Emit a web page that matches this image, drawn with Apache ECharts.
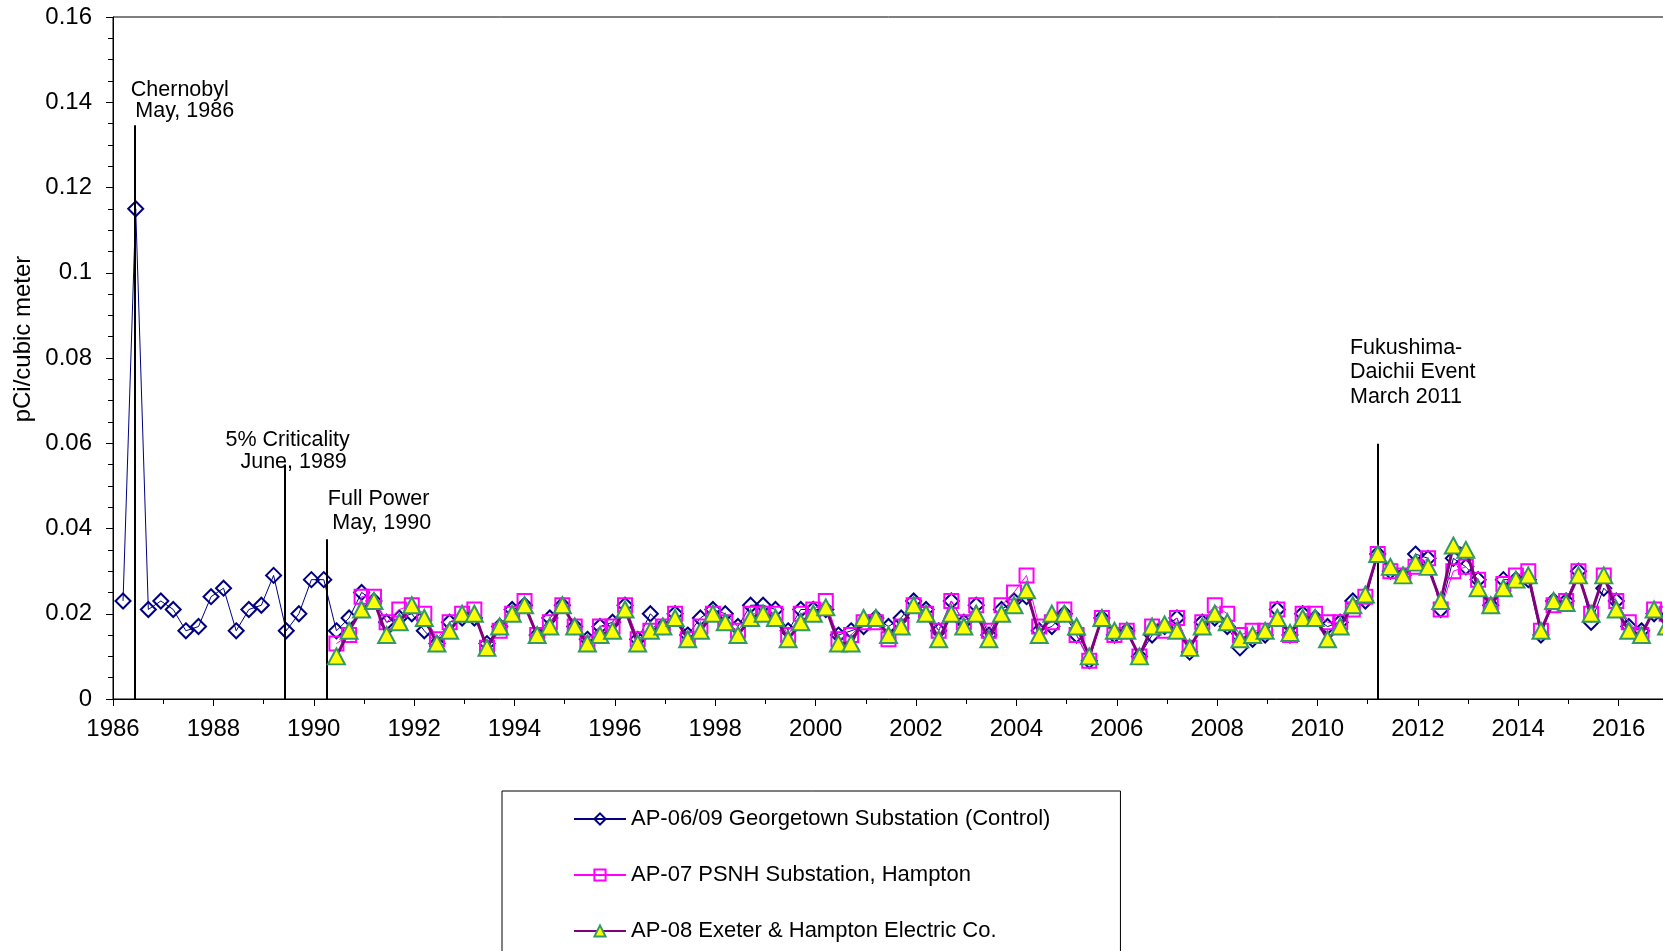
<!DOCTYPE html>
<html>
<head>
<meta charset="utf-8">
<script src="https://cdn.jsdelivr.net/npm/echarts@6/dist/echarts.min.js"></script>
<style>
html,body{margin:0;padding:0;background:#fff;}
#chart{width:1663px;height:951px;}
</style>
</head>
<body>
<div id="chart"></div>
<script>
// ---- data ----
const seriesNames = [
  'AP-06/09 Georgetown Substation (Control)',
  'AP-07 PSNH Substation, Hampton',
  'AP-08 Exeter & Hampton Electric Co.'
];
// quarterly sample dates, 1986-03 .. 2016-12
const sampleMonths = ['03-15', '06-15', '09-15', '12-15'];
const firstYear = 1986, lastYear = 2016;
// Georgetown starts 1986-03; the other two start 1990-06
const georgetown = [
  0.023, 0.115, 0.021, 0.023, 0.021, 0.016, 0.017, 0.024, 0.026, 0.016, 0.021, 0.022, 0.029, 0.016, 0.020, 0.028, 0.028,
  0.016, 0.019, 0.025, 0.023, 0.018, 0.019, 0.020, 0.016, 0.013, 0.018, 0.019, 0.019, 0.013, 0.017, 0.021, 0.022,
  0.015, 0.019, 0.022, 0.017, 0.014, 0.017, 0.018, 0.022, 0.014, 0.020, 0.017, 0.020, 0.015, 0.019, 0.021, 0.020,
  0.017, 0.022, 0.022, 0.021, 0.016, 0.021, 0.021, 0.021, 0.015, 0.016, 0.017, 0.019, 0.017, 0.019, 0.023, 0.021,
  0.016, 0.023, 0.018, 0.022, 0.015, 0.021, 0.023, 0.024, 0.016, 0.017, 0.020, 0.015, 0.009, 0.019, 0.015, 0.016,
  0.010, 0.015, 0.017, 0.019, 0.011, 0.018, 0.019, 0.017, 0.012, 0.014, 0.015, 0.021, 0.015, 0.020, 0.019, 0.017,
  0.018, 0.023, 0.023, 0.034, 0.030, 0.029, 0.034, 0.033, 0.021, 0.033, 0.031, 0.028, 0.022, 0.028, 0.028, 0.028,
  0.015, 0.023, 0.023, 0.030, 0.018, 0.026, 0.023, 0.017, 0.016, 0.020, 0.019
];
const psnh = [
  0.013, 0.015, 0.024, 0.024, 0.018, 0.021, 0.022, 0.020, 0.014, 0.018, 0.020, 0.021, 0.012, 0.016, 0.020, 0.023,
  0.015, 0.018, 0.022, 0.017, 0.013, 0.017, 0.017, 0.022, 0.014, 0.016, 0.017, 0.020, 0.014, 0.017, 0.020, 0.018,
  0.016, 0.020, 0.020, 0.020, 0.015, 0.020, 0.021, 0.023, 0.014, 0.015, 0.018, 0.018, 0.014, 0.017, 0.022, 0.020,
  0.016, 0.023, 0.018, 0.022, 0.016, 0.022, 0.025, 0.029, 0.017, 0.018, 0.021, 0.015, 0.009, 0.019, 0.015, 0.016,
  0.010, 0.017, 0.016, 0.019, 0.012, 0.018, 0.022, 0.020, 0.015, 0.016, 0.016, 0.021, 0.015, 0.020, 0.020, 0.018,
  0.018, 0.021, 0.024, 0.034, 0.030, 0.029, 0.031, 0.033, 0.021, 0.030, 0.031, 0.028, 0.022, 0.027, 0.029, 0.030,
  0.016, 0.022, 0.023, 0.030, 0.020, 0.029, 0.023, 0.018, 0.015, 0.021, 0.020
];
const exeter = [
  0.010, 0.016, 0.021, 0.023, 0.015, 0.018, 0.022, 0.019, 0.013, 0.016, 0.020, 0.020, 0.012, 0.017, 0.020, 0.022,
  0.015, 0.017, 0.022, 0.017, 0.013, 0.015, 0.016, 0.021, 0.013, 0.016, 0.017, 0.019, 0.014, 0.016, 0.020, 0.018,
  0.015, 0.019, 0.020, 0.019, 0.014, 0.018, 0.020, 0.0215, 0.013, 0.013, 0.019, 0.019, 0.015, 0.017, 0.022, 0.020,
  0.014, 0.020, 0.017, 0.020, 0.014, 0.020, 0.022, 0.0255, 0.015, 0.020, 0.020, 0.017, 0.010, 0.019, 0.016, 0.016,
  0.010, 0.017, 0.0175, 0.016, 0.012, 0.017, 0.020, 0.018, 0.014, 0.015, 0.016, 0.019, 0.0155, 0.019, 0.019, 0.014,
  0.017, 0.022, 0.0245, 0.034, 0.031, 0.029, 0.032, 0.031, 0.023, 0.036, 0.035, 0.026, 0.022, 0.026, 0.028, 0.029,
  0.016, 0.023, 0.0225, 0.029, 0.020, 0.029, 0.021, 0.016, 0.015, 0.021, 0.017
];
const laterStartIndex = 17; // 1990-06
// event markers: x (decimal year), top of line (pCi/m3), text anchor, text lines
const events = [
  { lines: ['Chernobyl', 'May, 1986'], indent: [0, 4.5], x: 1986.43, top: 0.1346, tx: 1986.355, ty: 0.1404, lh: 21 },
  { lines: ['5% Criticality', 'June, 1989'], indent: [0, 15], x: 1989.42, top: 0.055, tx: 1988.24, ty: 0.0582, lh: 22 },
  { lines: ['Full Power', 'May, 1990'], indent: [0, 4.5], x: 1990.25, top: 0.0375, tx: 1990.28, ty: 0.0442, lh: 24 },
  { lines: ['Fukushima-', 'Daichii Event', 'March 2011'], indent: [0, 0, 0], x: 2011.2, top: 0.0599, tx: 2010.647, ty: 0.0766, lh: 24.5 }
];
const yTicks = [0, 0.02, 0.04, 0.06, 0.08, 0.1, 0.12, 0.14, 0.16];
const xTickStart = 1986, xTickEnd = 2018, xTickStep = 2;

// ---- build ----
const sampleDates = [];
for (let y = firstYear; y <= lastYear; y++) for (const m of sampleMonths) sampleDates.push(y + '-' + m);
function decYear(s) {
  const d = new Date(s + 'T00:00:00Z');
  const y = d.getUTCFullYear();
  const start = Date.UTC(y, 0, 1);
  return y + (d.getTime() - start) / (365 * 86400000);
}
const xs = sampleDates.map(decYear);
const gData = georgetown.map((v, i) => [xs[i], v]);
const pData = psnh.map((v, i) => [xs[i + laterStartIndex], v]);
const eData = exeter.map((v, i) => [xs[i + laterStartIndex], v]);

const FONT = 'Liberation Sans, Arial, sans-serif';
function eventLabel(e) {
  const rich = {};
  const parts = e.lines.map((t, i) => {
    rich['l' + i] = { fontSize: 21.5, lineHeight: e.lh, color: '#000', fontFamily: FONT, padding: [0, 0, 0, e.indent[i]] };
    return '{l' + i + '|' + t + '}';
  });
  return {
    show: true, position: 'inside', formatter: parts.join('\n'), align: 'left', verticalAlign: 'middle',
    fontSize: 21.5, lineHeight: e.lh, color: '#000', fontFamily: FONT, rich: rich
  };
}
const chart = echarts.init(document.getElementById('chart'), null, { renderer: 'canvas' });
const option = {
  animation: false,
  backgroundColor: '#fff',
  textStyle: { fontFamily: FONT, color: '#000' },
  grid: {
    left: 113, right: -56, top: 17, bottom: 252, containLabel: false, outerBoundsMode: 'none',
    show: true, borderColor: '#000', borderWidth: 1, backgroundColor: 'transparent'
  },
  legend: {
    orient: 'vertical', left: 502, top: 791, height: 240,
    data: seriesNames,
    itemWidth: 52, itemHeight: 14, itemGap: 34,
    padding: [17, 70, 40, 71],
    borderColor: '#000', borderWidth: 1, backgroundColor: '#fff',
    textStyle: { fontSize: 22, color: '#000', fontFamily: FONT },
    selectedMode: false
  },
  xAxis: {
    type: 'value', min: xTickStart, max: xTickEnd, interval: xTickStep,
    axisLine: { show: true, onZero: false, lineStyle: { color: '#000', width: 1 } },
    axisTick: { show: true, length: 7, lineStyle: { color: '#000' } },
    minorTick: { show: true, splitNumber: 2, length: 5, lineStyle: { color: '#000' } },
    splitLine: { show: false },
    axisLabel: { fontSize: 24, color: '#000', fontFamily: FONT, margin: 18, formatter: v => String(v) }
  },
  yAxis: {
    type: 'value', min: yTicks[0], max: yTicks[yTicks.length - 1], interval: 0.02,
    axisLine: { show: true, lineStyle: { color: '#000', width: 1 } },
    axisTick: { show: true, length: 7, lineStyle: { color: '#000' } },
    minorTick: { show: true, splitNumber: 4, length: 5, lineStyle: { color: '#000' } },
    splitLine: { show: false },
    axisLabel: { fontSize: 24, color: '#000', fontFamily: FONT, margin: 21, formatter: v => String(+(+v).toFixed(3)) }
  },
  graphic: [{
    type: 'text', x: 23, y: 339, rotation: Math.PI / 2,
    style: { text: 'pCi/cubic meter', font: '24px ' + FONT, fill: '#000', align: 'center', verticalAlign: 'middle' }
  }],
  series: [
    {
      name: 'events', type: 'line', data: [], silent: true,
      markLine: {
        silent: true, symbol: 'none', animation: false,
        lineStyle: { color: '#000', width: 2, type: 'solid' },
        label: { show: false },
        data: events.map(e => [{ coord: [e.x, 0] }, { coord: [e.x, e.top] }])
      },
      markPoint: {
        silent: true, symbol: 'circle', symbolSize: 0, animation: false,
        data: events.map(e => ({ coord: [e.tx, e.ty], label: eventLabel(e) }))
      }
    },
    {
      name: seriesNames[0], type: 'line', data: gData, z: 3,
      symbol: 'diamond', symbolSize: 15, showAllSymbol: true,
      lineStyle: { color: '#000080', width: 1 },
      itemStyle: { color: 'rgba(255,255,255,0)', borderColor: '#000080', borderWidth: 2 }
    },
    {
      name: seriesNames[1], type: 'line', data: pData, z: 4,
      symbol: 'rect', symbolSize: 14, showAllSymbol: true,
      lineStyle: { color: '#FF00FF', width: 1 },
      itemStyle: { color: 'rgba(255,255,255,0)', borderColor: '#FF00FF', borderWidth: 2 }
    },
    {
      name: seriesNames[2], type: 'line', data: eData, z: 5,
      symbol: 'triangle', symbolSize: [17, 16], showAllSymbol: true,
      lineStyle: { color: '#800080', width: 3 },
      itemStyle: { color: '#FFFF00', borderColor: '#339966', borderWidth: 2 }
    }
  ]
};
chart.setOption(option);
</script>
</body>
</html>
